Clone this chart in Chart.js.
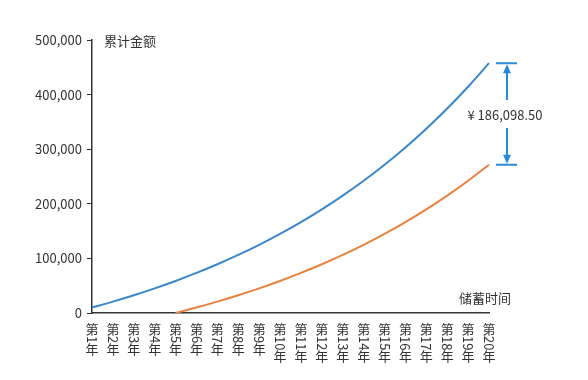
<!DOCTYPE html>
<html><head><meta charset="utf-8">
<script src="https://cdn.jsdelivr.net/npm/chart.js@4/dist/chart.umd.min.js"></script>
<style>html,body{margin:0;padding:0;background:#fff}#wrap{width:588px;height:380px}</style>
</head><body><div id="wrap"><canvas id="c" width="588" height="380"></canvas></div>
<script>
const categories = ['第1年','第2年','第3年','第4年','第5年','第6年','第7年','第8年','第9年','第10年','第11年','第12年','第13年','第14年','第15年','第16年','第17年','第18年','第19年','第20年'];
const savingsEarly = [10000,20800,32464,45061.12,58666.01,73359.29,89228.03,106366.28,124875.58,144865.62,166454.87,189771.26,214952.97,242149.20,271521.14,303242.83,337502.26,374502.44,414462.63,457619.64];
const savingsLate = [null,null,null,null,0,10000,20800,32464,45061.12,58666.01,73359.29,89228.03,106366.28,124875.58,144865.62,166454.87,189771.26,214952.97,242149.20,271521.14];
const yTicks = [0,100000,200000,300000,400000,500000];
const yTitle = '累计金额';
const xTitle = '储蓄时间';
const diffLabel = '¥ 186,098.50';

const FONT = '"Noto Sans CJK SC","Noto Sans",sans-serif';
const TXT = '#333333';

const overlay = {
  id:'overlay',
  afterDraw(chart){
    const ctx = chart.ctx, xs = chart.scales.x, ys = chart.scales.y, ca = chart.chartArea;
    ctx.save();
    // x labels: vertical writing
    ctx.fillStyle = TXT;
    ctx.font = '13px ' + FONT;
    ctx.textAlign = 'center';
    ctx.textBaseline = 'middle';
    categories.forEach((lab,i)=>{
      const x = xs.getPixelForValue(i);
      const m = lab.match(/^(第)(\d+)(年)$/);
      let y = ca.bottom + 16;
      ctx.fillText(m[1], x, y);
      y += 6;
      const w = ctx.measureText(m[2]).width;
      ctx.save();
      ctx.translate(x, y + w/2 + 1);
      ctx.rotate(Math.PI/2);
      ctx.fillText(m[2], 0, 0);
      ctx.restore();
      y += w + 1 + 6;
      ctx.fillText(m[3], x, y);
    });
    // axis titles
    ctx.textAlign = 'left';
    ctx.fillText(yTitle, ca.left + 12, ys.getPixelForValue(500000) + 1);
    ctx.fillText(xTitle, ca.right - 30, ca.bottom - 15);
    // difference annotation
    const n = categories.length - 1;
    const yTop = ys.getPixelForValue(savingsEarly[n]);
    const yBot = ys.getPixelForValue(savingsLate[n]);
    const ax = xs.getPixelForValue(n) + 18;
    const col = '#2a8ad8';
    ctx.strokeStyle = col; ctx.fillStyle = col; ctx.lineWidth = 2;
    ctx.beginPath();
    ctx.moveTo(ax-11, yTop); ctx.lineTo(ax+10, yTop);
    ctx.moveTo(ax-11, yBot); ctx.lineTo(ax+10, yBot);
    const mid = (yTop + yBot)/2;
    ctx.moveTo(ax, yTop+6); ctx.lineTo(ax, mid-14);
    ctx.moveTo(ax, mid+14); ctx.lineTo(ax, yBot-6);
    ctx.stroke();
    ctx.beginPath();
    ctx.moveTo(ax, yTop+1); ctx.lineTo(ax-4, yTop+10); ctx.lineTo(ax+4, yTop+10); ctx.closePath();
    ctx.moveTo(ax, yBot-1); ctx.lineTo(ax-4, yBot-10); ctx.lineTo(ax+4, yBot-10); ctx.closePath();
    ctx.fill();
    ctx.fillStyle = TXT;
    ctx.textAlign = 'center';
    ctx.fillText(diffLabel, ax - 2, mid + 1);
    ctx.restore();
  }
};

new Chart(document.getElementById('c'), {
  type:'line',
  data:{ labels: categories, datasets:[
    {data: savingsEarly, borderColor:'#3a87cc', borderWidth:2, pointRadius:0, tension:0.3, fill:false},
    {data: savingsLate, borderColor:'#e8823e', borderWidth:2, pointRadius:0, tension:0.3, fill:false, spanGaps:false}
  ]},
  options:{
    responsive:false, animation:false, devicePixelRatio:1,
    layout:{padding:{top:40, right:99, left:0, bottom:0}},
    plugins:{legend:{display:false}, tooltip:{enabled:false}},
    scales:{
      x:{
        offset:false,
        grid:{display:false, drawTicks:false},
        border:{display:true, color:'#333', width:1.5},
        ticks:{display:false},
        afterFit(s){ s.height = 67; }
      },
      y:{
        min:0, max:500000,
        afterBuildTicks(s){ s.ticks = yTicks.map(v=>({value:v})); },
        grid:{drawOnChartArea:false, drawTicks:true, tickLength:5, color:'#333'},
        border:{display:true, color:'#333', width:1.5},
        ticks:{color:TXT, font:{family:FONT, size:13}, padding:5,
          callback:v=>v.toLocaleString('en-US')},
        afterFit(s){ s.width = 92; }
      }
    }
  },
  plugins:[overlay]
});
</script></body></html>
